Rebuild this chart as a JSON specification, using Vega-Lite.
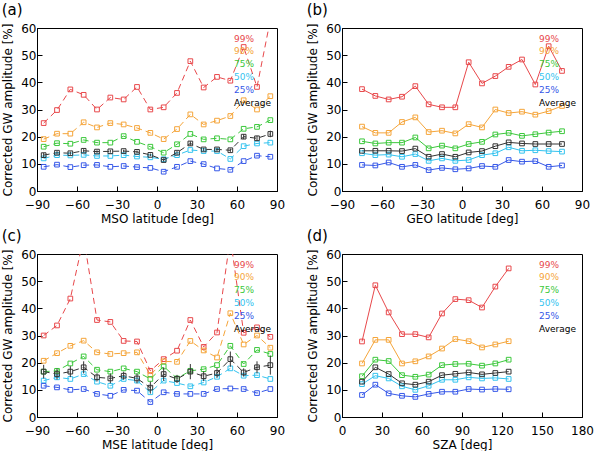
{
  "$schema": "https://vega.github.io/schema/vega-lite/v6.json",
  "padding": {"left": 1, "top": 2, "right": 0, "bottom": 0},
  "background": "white",
  "datasets": {
    "a": [
      {"x": -85, "99%": 25, "90%": 19.1, "75%": 16.3, "Average": 13.2, "50%": 12, "25%": 8.9, "err": 0.8},
      {"x": -75, "99%": 29.8, "90%": 21.1, "75%": 17.6, "Average": 14.1, "50%": 13.2, "25%": 9.7, "err": 0.6},
      {"x": -65, "99%": 37.4, "90%": 21.1, "75%": 17.4, "Average": 13.9, "50%": 13.1, "25%": 8.8, "err": 0.6},
      {"x": -55, "99%": 35.4, "90%": 25.3, "75%": 18.8, "Average": 14.8, "50%": 13.3, "25%": 9.5, "err": 0.6},
      {"x": -45, "99%": 30, "90%": 23.4, "75%": 17.8, "Average": 14.5, "50%": 12.9, "25%": 9.6, "err": 0.5},
      {"x": -35, "99%": 34.4, "90%": 25, "75%": 17.8, "Average": 14.6, "50%": 12.9, "25%": 8.9, "err": 0.5},
      {"x": -25, "99%": 33.7, "90%": 24.5, "75%": 20.2, "Average": 14.7, "50%": 13.2, "25%": 9.2, "err": 0.5},
      {"x": -15, "99%": 38.3, "90%": 23.2, "75%": 18.1, "Average": 14.4, "50%": 12.7, "25%": 8.8, "err": 0.5},
      {"x": -5, "99%": 30, "90%": 21.4, "75%": 16.3, "Average": 13.3, "50%": 12.4, "25%": 8.5, "err": 0.5},
      {"x": 5, "99%": 30.8, "90%": 19.1, "75%": 14.1, "Average": 11.4, "50%": 11.7, "25%": 7.1, "err": 0.6},
      {"x": 15, "99%": 36.1, "90%": 22.8, "75%": 17.2, "Average": 14.1, "50%": 13.2, "25%": 8.9, "err": 0.6},
      {"x": 25, "99%": 47.8, "90%": 28.2, "75%": 21, "Average": 17.5, "50%": 15.1, "25%": 11, "err": 0.8},
      {"x": 35, "99%": 38.1, "90%": 24.5, "75%": 19, "Average": 15.3, "50%": 14.7, "25%": 9.9, "err": 0.6},
      {"x": 45, "99%": 42, "90%": 25.9, "75%": 19.4, "Average": 15.3, "50%": 14.7, "25%": 8.3, "err": 0.6},
      {"x": 55, "99%": 40.6, "90%": 27.6, "75%": 19, "Average": 15, "50%": 11.8, "25%": 7.8, "err": 0.6},
      {"x": 65, "99%": 53, "90%": 33.4, "75%": 22.9, "Average": 20, "50%": 16.5, "25%": 11, "err": 0.9},
      {"x": 75, "99%": 38.3, "90%": 30, "75%": 23.6, "Average": 19.4, "50%": 17.5, "25%": 13, "err": 0.9},
      {"x": 85, "99%": 63, "90%": 34.9, "75%": 26.1, "Average": 21, "50%": 17.8, "25%": 12.6, "err": 1.2}
    ],
    "b": [
      {"x": -75, "99%": 37.5, "90%": 23.7, "75%": 18.3, "Average": 14.8, "50%": 13.9, "25%": 9.6},
      {"x": -65, "99%": 35, "90%": 21.4, "75%": 17.5, "Average": 14.8, "50%": 13.2, "25%": 9.4},
      {"x": -55, "99%": 33.7, "90%": 21.4, "75%": 17.8, "Average": 14.8, "50%": 13.4, "25%": 10.5},
      {"x": -45, "99%": 34.7, "90%": 25.4, "75%": 17.8, "Average": 14.7, "50%": 12.6, "25%": 8.9},
      {"x": -35, "99%": 38.6, "90%": 27.1, "75%": 19.7, "Average": 15.6, "50%": 13.6, "25%": 9.6},
      {"x": -25, "99%": 31.9, "90%": 21.7, "75%": 15.7, "Average": 12.6, "50%": 11.1, "25%": 7.7},
      {"x": -15, "99%": 30.8, "90%": 22.2, "75%": 16.7, "Average": 13.6, "50%": 12, "25%": 8.5},
      {"x": -5, "99%": 30.8, "90%": 21.2, "75%": 15.7, "Average": 12.6, "50%": 11.1, "25%": 8},
      {"x": 5, "99%": 47.4, "90%": 24.6, "75%": 17.3, "Average": 14.2, "50%": 11.4, "25%": 8.3},
      {"x": 15, "99%": 39.6, "90%": 23.4, "75%": 18.1, "Average": 14.7, "50%": 13.2, "25%": 9.2},
      {"x": 25, "99%": 42.3, "90%": 30, "75%": 20.8, "Average": 16.5, "50%": 13.9, "25%": 8.9},
      {"x": 35, "99%": 45.7, "90%": 28.7, "75%": 21.4, "Average": 17.9, "50%": 16.1, "25%": 11.4},
      {"x": 45, "99%": 48.4, "90%": 29.2, "75%": 20.3, "Average": 17.5, "50%": 14.8, "25%": 10.8},
      {"x": 55, "99%": 39.2, "90%": 28.1, "75%": 20.9, "Average": 17.3, "50%": 15, "25%": 11},
      {"x": 65, "99%": 53.3, "90%": 29.4, "75%": 21.5, "Average": 17.3, "50%": 14.7, "25%": 8.9},
      {"x": 75, "99%": 44.2, "90%": 31.3, "75%": 22, "Average": 17.3, "50%": 14.5, "25%": 9.4}
    ],
    "c": [
      {"x": -85, "99%": 30, "90%": 20.7, "75%": 16.7, "Average": 16.7, "50%": 13.4, "25%": 11.5, "err": 2.5},
      {"x": -75, "99%": 33.7, "90%": 23.5, "75%": 17, "Average": 15.8, "50%": 14.6, "25%": 10.9, "err": 2},
      {"x": -65, "99%": 43.6, "90%": 26.2, "75%": 19.7, "Average": 16.7, "50%": 14, "25%": 10, "err": 2},
      {"x": -55, "99%": 66, "90%": 28.1, "75%": 22.3, "Average": 18.3, "50%": 15.8, "25%": 10.3, "err": 2.2},
      {"x": -45, "99%": 35.7, "90%": 23.8, "75%": 17.4, "Average": 14.6, "50%": 13, "25%": 8.5, "err": 1.5},
      {"x": -35, "99%": 35, "90%": 23.2, "75%": 16.7, "Average": 14.2, "50%": 11.5, "25%": 7.8, "err": 1.8},
      {"x": -25, "99%": 28, "90%": 23.5, "75%": 17.9, "Average": 15.2, "50%": 14, "25%": 10, "err": 1.5},
      {"x": -15, "99%": 27.8, "90%": 23.8, "75%": 16.7, "Average": 14.2, "50%": 13.4, "25%": 9.7, "err": 1.8},
      {"x": -5, "99%": 17, "90%": 15.5, "75%": 14, "Average": 10.8, "50%": 9.1, "25%": 5.5, "err": 2.2},
      {"x": 5, "99%": 21.3, "90%": 20.5, "75%": 18.6, "Average": 15.8, "50%": 13.4, "25%": 9.1, "err": 2.5},
      {"x": 15, "99%": 24.4, "90%": 20.3, "75%": 14.2, "Average": 14, "50%": 12.5, "25%": 8.5, "err": 1.5},
      {"x": 25, "99%": 35.7, "90%": 28, "75%": 17, "Average": 16.7, "50%": 11.3, "25%": 8.5, "err": 2.8},
      {"x": 35, "99%": 25.8, "90%": 24.5, "75%": 17.6, "Average": 15, "50%": 12.7, "25%": 8.5, "err": 1.8},
      {"x": 45, "99%": 31.1, "90%": 21.9, "75%": 19.1, "Average": 16.2, "50%": 14.8, "25%": 10.3, "err": 1.8},
      {"x": 55, "99%": 66, "90%": 38.2, "75%": 26.2, "Average": 21.3, "50%": 17.9, "25%": 10.5, "err": 2.8},
      {"x": 65, "99%": 31, "90%": 26.7, "75%": 19.5, "Average": 16.4, "50%": 15.2, "25%": 10.3, "err": 1.5},
      {"x": 75, "99%": 33, "90%": 30, "75%": 24.7, "Average": 18.3, "50%": 15.4, "25%": 8.8, "err": 2.2},
      {"x": 85, "99%": 29.5, "90%": 25.5, "75%": 23.2, "Average": 19.1, "50%": 14, "25%": 10.3, "err": 3.5}
    ],
    "d": [
      {"x": 15, "99%": 27.8, "90%": 19.7, "75%": 15, "Average": 13, "50%": 12.1, "25%": 8.1},
      {"x": 25, "99%": 48.5, "90%": 28.4, "75%": 21.1, "Average": 18.3, "50%": 15.2, "25%": 11.9},
      {"x": 35, "99%": 38.5, "90%": 28.4, "75%": 20.6, "Average": 15.8, "50%": 14.2, "25%": 8.7},
      {"x": 45, "99%": 30.5, "90%": 19.7, "75%": 15.4, "Average": 12.4, "50%": 11.3, "25%": 7.8},
      {"x": 55, "99%": 30.5, "90%": 20.5, "75%": 14.8, "Average": 11.9, "50%": 10, "25%": 7.4},
      {"x": 65, "99%": 29.3, "90%": 22.3, "75%": 15.6, "Average": 13, "50%": 11.5, "25%": 8.5},
      {"x": 75, "99%": 38.1, "90%": 25.2, "75%": 19.1, "Average": 15.4, "50%": 13.7, "25%": 9.3},
      {"x": 85, "99%": 43.4, "90%": 28.7, "75%": 19.5, "Average": 15.9, "50%": 13.7, "25%": 9.3},
      {"x": 95, "99%": 43, "90%": 27.9, "75%": 19.6, "Average": 16.4, "50%": 14.6, "25%": 10.3},
      {"x": 105, "99%": 40.3, "90%": 25.6, "75%": 18.9, "Average": 15.7, "50%": 14.2, "25%": 10.1},
      {"x": 115, "99%": 48, "90%": 26.7, "75%": 19.7, "Average": 16.2, "50%": 14.4, "25%": 10.3},
      {"x": 125, "99%": 54.7, "90%": 27.9, "75%": 21.1, "Average": 16.7, "50%": 14, "25%": 10.2}
    ]
  },
  "config": {
    "font": "DejaVu Sans",
    "view": {"stroke": "#000", "strokeWidth": 1},
    "axis": {
      "grid": false,
      "domainColor": "#000",
      "tickColor": "#000",
      "tickSize": -5,
      "labelFlush": false,
      "labelOverlap": false,
      "labelColor": "#000",
      "labelFont": "DejaVu Sans",
      "labelFontSize": 12,
      "titleFont": "DejaVu Sans",
      "titleFontSize": 12,
      "titleFontWeight": "normal",
      "titleColor": "#000"
    },
    "axisY": {"titlePadding": 6, "labelPadding": 6},
    "axisX": {"titlePadding": 3, "labelPadding": 13},
    "title": {"font": "DejaVu Sans", "fontSize": 15, "fontWeight": "normal", "anchor": "start", "offset": 4, "color": "#000"},
    "legend": {
      "orient": "top-right",
      "offset": 6,
      "title": null,
      "padding": 0,
      "symbolSize": 0,
      "symbolOpacity": 0,
      "symbolStrokeWidth": 0,
      "labelFont": "DejaVu Sans",
      "labelFontSize": 9,
      "rowPadding": 2.8,
      "labelOffset": 0,
      "labelColor": {"expr": "datum.label=='99%'?'#e8484b':datum.label=='90%'?'#f5a53a':datum.label=='75%'?'#3cc83c':datum.label=='50%'?'#34c3ef':datum.label=='25%'?'#3658e8':'#000'"}
    }
  },
  "columns": 2,
  "spacing": {"column": 20, "row": 3},
  "resolve": {"legend": {"color": "independent"}, "scale": {"x": "independent", "y": "independent"}},
  "concat": [
    {
      "width": 240, "height": 163,
      "title": "(a)",
      "data": {"name": "a"},
      "transform": [{"fold": ["99%", "90%", "75%", "50%", "25%", "Average"], "as": ["s", "v"]}],
      "encoding": {
        "x": {"field": "x", "type": "quantitative", "scale": {"domain": [-90, 90], "nice": false}, "axis": {"values": [-90, -60, -30, 0, 30, 60, 90], "title": "MSO latitude [deg]"}},
        "y": {"field": "v", "type": "quantitative", "scale": {"domain": [0, 60], "nice": false}, "axis": {"values": [0, 10, 20, 30, 40, 50, 60], "title": "Corrected GW amplitude [%]"}},
        "color": {"field": "s", "type": "nominal", "scale": {"domain": ["99%", "90%", "75%", "50%", "25%", "Average"], "range": ["#e8484b", "#f5a53a", "#3cc83c", "#34c3ef", "#3658e8", "#333333"]}}
      },
      "layer": [
        {"mark": {"type": "line", "strokeDash": [6, 4], "strokeWidth": 1, "clip": true}},
        {"mark": {"type": "point", "shape": "square", "filled": false, "size": 22, "strokeWidth": 1, "clip": true, "opacity": 1}},
        {"transform": [{"filter": "datum.s == 'Average'"}], "mark": {"type": "errorbar", "color": "#333", "thickness": 1}, "encoding": {"y": {"field": "v", "type": "quantitative"}, "yError": {"field": "err"}, "color": {"value": "#333"}}}
      ]
    },
    {
      "width": 240, "height": 163,
      "title": "(b)",
      "data": {"name": "b"},
      "transform": [{"fold": ["99%", "90%", "75%", "50%", "25%", "Average"], "as": ["s", "v"]}],
      "encoding": {
        "x": {"field": "x", "type": "quantitative", "scale": {"domain": [-90, 90], "nice": false}, "axis": {"values": [-90, -60, -30, 0, 30, 60, 90], "title": "GEO latitude [deg]"}},
        "y": {"field": "v", "type": "quantitative", "scale": {"domain": [0, 60], "nice": false}, "axis": {"values": [0, 10, 20, 30, 40, 50, 60], "title": "Corrected GW amplitude [%]"}},
        "color": {"field": "s", "type": "nominal", "scale": {"domain": ["99%", "90%", "75%", "50%", "25%", "Average"], "range": ["#e8484b", "#f5a53a", "#3cc83c", "#34c3ef", "#3658e8", "#333333"]}}
      },
      "layer": [
        {"mark": {"type": "line", "strokeWidth": 1, "clip": true}},
        {"mark": {"type": "point", "shape": "square", "filled": false, "size": 22, "strokeWidth": 1, "clip": true, "opacity": 1}}
      ]
    },
    {
      "width": 240, "height": 163,
      "title": "(c)",
      "data": {"name": "c"},
      "transform": [{"fold": ["99%", "90%", "75%", "50%", "25%", "Average"], "as": ["s", "v"]}],
      "encoding": {
        "x": {"field": "x", "type": "quantitative", "scale": {"domain": [-90, 90], "nice": false}, "axis": {"values": [-90, -60, -30, 0, 30, 60, 90], "title": "MSE latitude [deg]"}},
        "y": {"field": "v", "type": "quantitative", "scale": {"domain": [0, 60], "nice": false}, "axis": {"values": [0, 10, 20, 30, 40, 50, 60], "title": "Corrected GW amplitude [%]"}},
        "color": {"field": "s", "type": "nominal", "scale": {"domain": ["99%", "90%", "75%", "50%", "25%", "Average"], "range": ["#e8484b", "#f5a53a", "#3cc83c", "#34c3ef", "#3658e8", "#333333"]}}
      },
      "layer": [
        {"mark": {"type": "line", "strokeDash": [6, 4], "strokeWidth": 1, "clip": true}},
        {"mark": {"type": "point", "shape": "square", "filled": false, "size": 22, "strokeWidth": 1, "clip": true, "opacity": 1}},
        {"transform": [{"filter": "datum.s == 'Average'"}], "mark": {"type": "errorbar", "color": "#333", "thickness": 1}, "encoding": {"y": {"field": "v", "type": "quantitative"}, "yError": {"field": "err"}, "color": {"value": "#333"}}}
      ]
    },
    {
      "width": 240, "height": 163,
      "title": "(d)",
      "data": {"name": "d"},
      "transform": [{"fold": ["99%", "90%", "75%", "50%", "25%", "Average"], "as": ["s", "v"]}],
      "encoding": {
        "x": {"field": "x", "type": "quantitative", "scale": {"domain": [0, 180], "nice": false}, "axis": {"values": [0, 30, 60, 90, 120, 150, 180], "title": "SZA [deg]"}},
        "y": {"field": "v", "type": "quantitative", "scale": {"domain": [0, 60], "nice": false}, "axis": {"values": [0, 10, 20, 30, 40, 50, 60], "title": "Corrected GW amplitude [%]"}},
        "color": {"field": "s", "type": "nominal", "scale": {"domain": ["99%", "90%", "75%", "50%", "25%", "Average"], "range": ["#e8484b", "#f5a53a", "#3cc83c", "#34c3ef", "#3658e8", "#333333"]}}
      },
      "layer": [
        {"mark": {"type": "line", "strokeWidth": 1, "clip": true}},
        {"mark": {"type": "point", "shape": "square", "filled": false, "size": 22, "strokeWidth": 1, "clip": true, "opacity": 1}}
      ]
    }
  ]
}
